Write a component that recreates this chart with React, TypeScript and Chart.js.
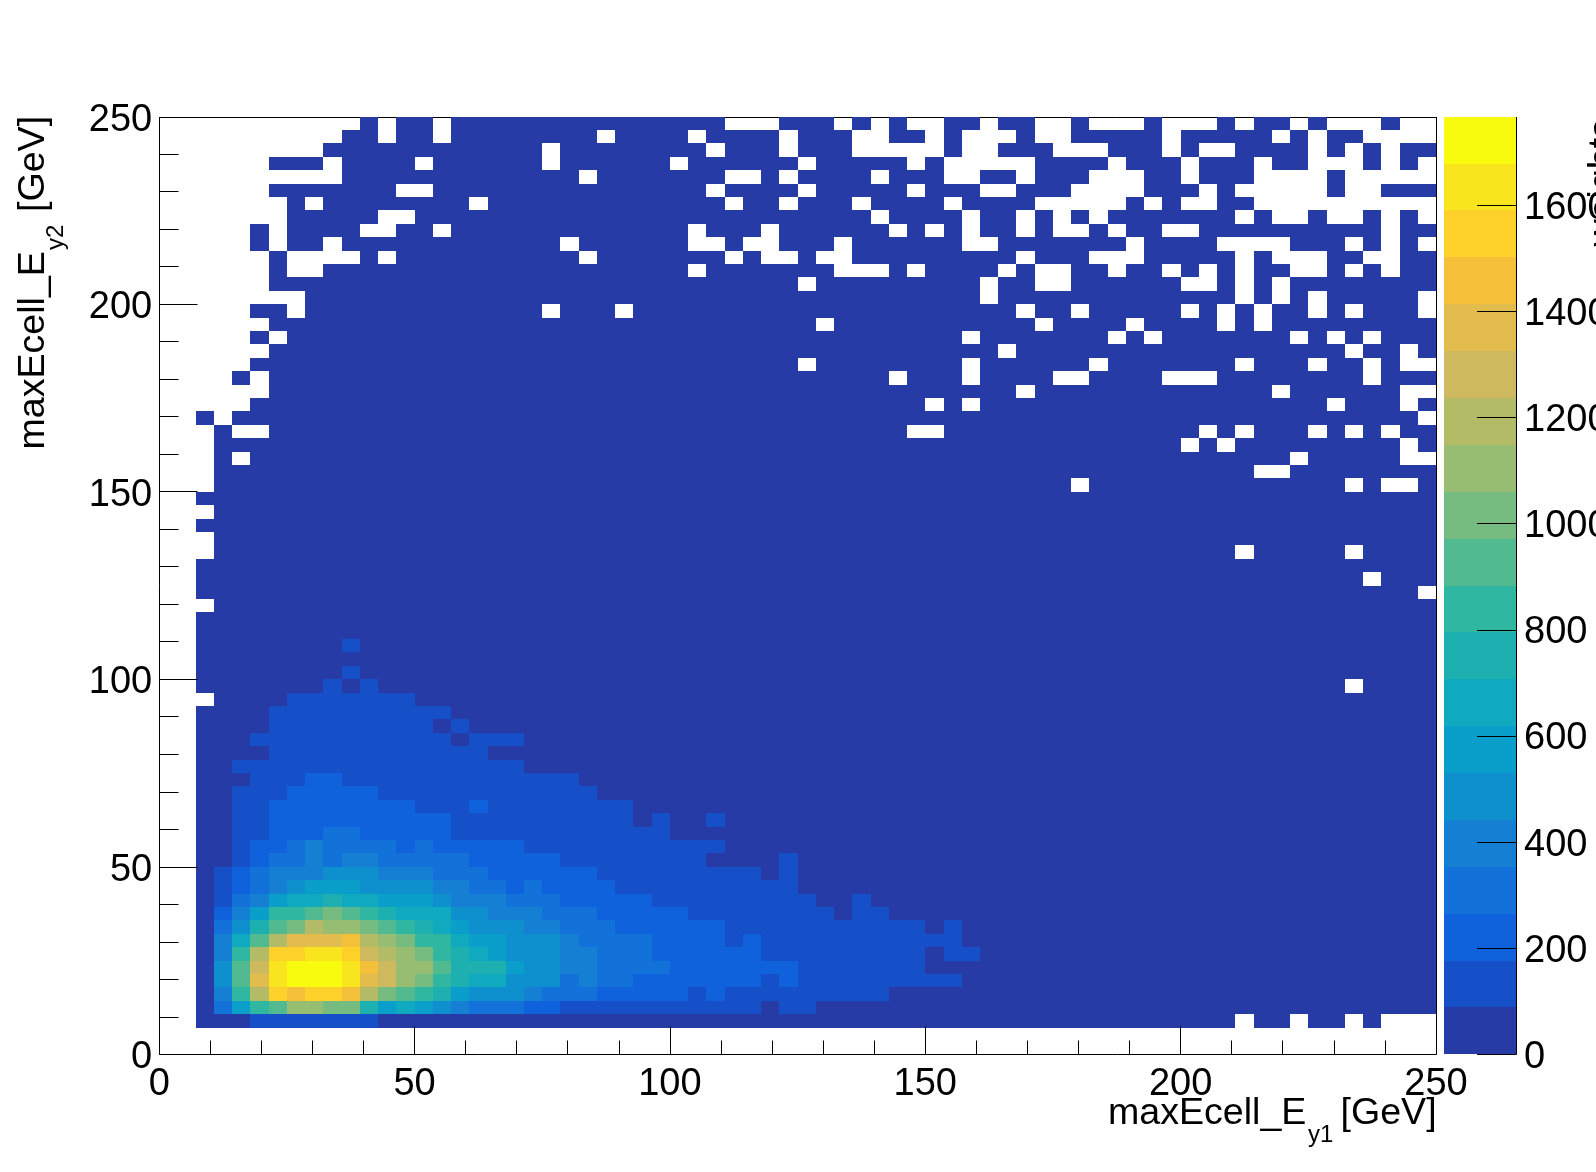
import React, { useEffect, useRef } from "react";
import { Chart, registerables } from "chart.js";

Chart.register(...registerables);

const BIN_COUNT = 70;
const AXIS_MAX = 250;
const Z_MAX = 1767;

const xAxisLabelValues = [0, 50, 100, 150, 200, 250];
const yAxisLabelValues = [0, 50, 100, 150, 200, 250];
const zTickValues = [0, 200, 400, 600, 800, 1000, 1200, 1400, 1600];

// Contour level colours, lowest level first.
const levelColors = [
  "#263ba5", "#1650c9", "#0f62dc", "#1272d9", "#157fd3",
  "#0e8fce", "#0a9fcb", "#0faabf", "#1eb0b0", "#2fb7a1",
  "#52ba91", "#76bc80", "#97bd73", "#b3bb66", "#cfb95f",
  "#e2bd4d", "#f4c03a", "#fdd02a", "#f9e51e", "#f9fb0e",
];

// Row 0 is the top row of the histogram. Bins listed here hold no entries (drawn white).
const emptyBinsByRow = [
  "0-10 12 15 31-33 37 39 41 42 45 48 49 51-53 55-57 59 62 64-66 68 69",
  "0-9 12 15 24 29 34 38 39 42 44-46 48 49 55 61 63 66-69",
  "0-8 21 30 34 38-42 44 45 49-51 55 57 58 63 65 67",
  "0-5 9 14 21 28 35 41 43-47 52 56 60 63-65 67 69",
  "0-9 23 31 32 34 39 43 44 47 51-53 56 60-63 65-69",
  "0-5 13 14 30 35 41 45 46 50-53 57 59-63 65 66",
  "0-6 8 17 31 34 38 43 48-52 54 56 57 60-69",
  "0-6 12 13 39 44 47 49 51 59 61 62 64 65 67 69",
  "0-4 6 11 12 15 29 33 40 42 44 47 49 50 52 55 56 67",
  "0-4 6 9 22 29 30 32 33 37 44 45 53 58-61 65 67 69",
  "0-5 7-10 12 23 31 33 34 36 37 47 51-53 59 61-63 66 67",
  "0-5 7 8 29 37-39 41 46 48 49 52 55 57 59 62 63 65 67",
  "0-5 35 45 48 49 56 57 59 61",
  "0-7 45 59 61 63 69",
  "0-4 7 21 25 47 50 56 58 60 63 65 69",
  "0-5 36 48 53 58 60",
  "0-4 6 44 52 54 62 64 66",
  "0-5 46 65 68",
  "0-4 35 44 51 59 63 66 68 69",
  "0-3 5 40 44 49 50 55-57 66",
  "0-5 47 61 68 69",
  "0-4 42 44 64 68",
  "0 1 3 69",
  "0-2 4 5 41 42 57 59 63 65 67",
  "0-2 56 58 68",
  "0-2 4 62 68 69",
  "0-2 60 61",
  "0-2 50 65 67 68",
  "0 1",
  "0-2",
  "0 1",
  "0-2",
  "0-2 59 65",
  "0 1",
  "0 1 66",
  "0 1 69",
  "0-2",
  "0 1", "0 1", "0 1", "0 1", "0 1",
  "0 1 65",
  "0-2",
  "0 1", "0 1", "0 1", "0 1", "0 1", "0 1", "0 1", "0 1", "0 1", "0 1", "0 1",
  "0 1", "0 1", "0 1", "0 1", "0 1", "0 1", "0 1", "0 1", "0 1", "0 1", "0 1", "0 1",
  "0 1 59 62 65 67-69",
  "0-69",
  "0-69",
];

// Row number -> "bins:level" runs for bins above the lowest contour level.
const raisedRows = [39, 41, 42, 43, 44, 45, 46, 47, 48, 49, 50, 51, 52, 53, 54, 55, 56, 57, 58, 59, 60, 61, 62, 63, 64, 65, 66, 67];
const raisedRuns = [
  "10:1",
  "10:1",
  "9:1 11:1",
  "7-13:1",
  "6-15:1",
  "6-14:1 16:1",
  "5-15:1 17-19:1",
  "6-17:1",
  "4-19:1",
  "5-7:1 8-9:2 10-22:1",
  "4-6:1 7-11:2 12-23:1",
  "4-5:1 6-13:2 14-16:1 17:2 18-25:1",
  "4-5:1 6-15:2 16-25:1 27:1 30:1",
  "4-5:1 6-8:2 9-10:3 11-15:2 16-27:1",
  "4:1 5-6:2 7:3 8:4 9-12:3 13:2 14:3 15-19:2 20-30:1",
  "4:1 5:2 6-7:3 8:4 9:3 10-11:4 12-16:3 17-21:2 22-29:1 34:1",
  "3:1 4:2 5:3 6-8:4 9-11:5 12-14:4 15-17:3 18-23:2 24-32:1 34:1",
  "3:1 4:2 5:3 6:4 7:5 8-10:6 11-14:5 15-16:4 17-18:3 19:2 20:3 21-24:2 25-34:1",
  "3:1 4:3 5:4 6:6 7-8:7 9:8 10-11:7 12-14:6 15:5 16-18:4 19-21:3 22-26:2 27-35:1 38:1",
  "3:2 4:4 5:6 6-7:9 8:10 9:11 10:10 11:9 12:8 13-15:7 16-17:5 18-20:4 21-23:3 24-28:2 29-36:1 38-39:1",
  "3:3 4:5 5:8 6:10 7:11 8:13 9-10:12 11:11 12:10 13:9 14:8 15:7 16:6 17-19:5 20-21:4 22-24:3 25-30:2 31-41:1 43:1",
  "3:4 4:7 5:10 6:13 7-9:15 10:16 11:13 12:12 13:11 14-15:9 16:7 17-18:6 19-21:5 22:4 23-26:3 27-30:2 31:1 32:2 33-43:1",
  "3:4 4:9 5:13 6-7:17 8-9:18 10:17 11:14 12:13 13:12 14:11 15:9 16:8 17:7 18:6 19-21:5 22-23:4 24-26:3 27-32:2 33-41:1 43-44:1",
  "3:5 4:10 5:14 6:18 7-9:19 10:18 11:16 12:14 13-14:12 15:10 16-18:8 19:6 20-21:5 22-23:4 24-27:3 28-34:2 35-41:1",
  "3:5 4:10 5:15 6:18 7-9:19 10:18 11:15 12:14 13:12 14:11 15:9 16:8 17-18:7 19-21:5 22:3 23:4 24-25:3 26-32:2 33:1 34:2 35-43:1",
  "3:4 4:9 5:13 6:17 7:16 8-9:17 10:16 11:13 12:11 13:10 14:9 15:8 16:6 17-19:5 20:4 21-23:3 24-28:2 29:1 30:2 31-39:1",
  "3:3 4:6 5:9 6:10 7-8:12 9-10:11 11:8 12:6 13:7 14:6 15:5 16:4 17-19:3 20-21:2 22-32:1 34-35:1",
  "5-11:1",
];

const FONT = '"Liberation Sans", Arial, sans-serif';
const levelStep = Z_MAX / levelColors.length;
const binWidth = AXIS_MAX / BIN_COUNT;

function expandBins(spec: string): number[] {
  const out: number[] = [];
  for (const part of spec.split(" ")) {
    const [a, b] = part.split("-").map(Number);
    for (let i = a; i <= (b ?? a); i++) out.push(i);
  }
  return out;
}

function buildCells() {
  const cells: { x: number; y: number; v: number }[] = [];
  for (let row = 0; row < BIN_COUNT; row++) {
    const empty = new Set(expandBins(emptyBinsByRow[row]));
    const levels = new Map<number, number>();
    const ri = raisedRows.indexOf(row);
    if (ri >= 0) {
      for (const run of raisedRuns[ri].split(" ")) {
        const [bins, lvl] = run.split(":");
        for (const b of expandBins(bins)) levels.set(b, Number(lvl));
      }
    }
    for (let col = 0; col < BIN_COUNT; col++) {
      if (empty.has(col)) continue;
      const level = levels.get(col) ?? 0;
      cells.push({
        x: (col + 0.5) * binWidth,
        y: (BIN_COUNT - row - 0.5) * binWidth,
        v: (level + 0.5) * levelStep,
      });
    }
  }
  return cells;
}

const histogramPlugin = {
  id: "histogram2d",
  beforeDatasetsDraw(chart: any) {
    const { ctx, chartArea: a, scales } = chart;
    const { x, y, z } = scales;
    ctx.save();
    // frame line that lies under the cells
    ctx.strokeStyle = "#000";
    ctx.lineWidth = 1;
    ctx.beginPath();
    ctx.moveTo(a.left, Math.round(a.top) + 0.5);
    ctx.lineTo(a.right, Math.round(a.top) + 0.5);
    ctx.stroke();
    // cells
    for (const c of chart.data.datasets[0].data) {
      const x0 = Math.round(x.getPixelForValue(c.x - binWidth / 2));
      const x1 = Math.round(x.getPixelForValue(c.x + binWidth / 2));
      const y0 = Math.round(y.getPixelForValue(c.y + binWidth / 2));
      const y1 = Math.round(y.getPixelForValue(c.y - binWidth / 2));
      ctx.fillStyle = levelColors[Math.floor(c.v / levelStep)];
      ctx.fillRect(x0, y0, x1 - x0, y1 - y0);
    }
    // colour bar
    levelColors.forEach((col, i) => {
      const y0 = Math.round(z.getPixelForValue((i + 1) * levelStep));
      const y1 = Math.round(z.getPixelForValue(i * levelStep));
      ctx.fillStyle = col;
      ctx.fillRect(1444, y0, 72, y1 - y0);
    });
    ctx.restore();
  },
  afterDatasetsDraw(chart: any) {
    const { ctx, chartArea: a, scales } = chart;
    const { x, y, z } = scales;
    const snap = (v: number) => Math.floor(v + 0.2) + 0.5;
    const top = Math.round(a.top);
    ctx.save();
    ctx.strokeStyle = "#000";
    ctx.lineWidth = 1;
    ctx.beginPath();
    // axes and right frame
    ctx.moveTo(snap(a.left), top);
    ctx.lineTo(snap(a.left), snap(a.bottom));
    ctx.lineTo(snap(a.right), snap(a.bottom));
    ctx.lineTo(snap(a.right), top);
    // x ticks (inward)
    for (const t of x.ticks) {
      const px = snap(x.getPixelForValue(t.value));
      ctx.moveTo(px, snap(a.bottom));
      ctx.lineTo(px, snap(a.bottom) - (t.value % 50 === 0 ? 28 : 14));
    }
    // y ticks (inward); the one at the very top and bottom sits on the frame
    for (const t of y.ticks) {
      if (t.value === AXIS_MAX) continue;
      const py = snap(y.getPixelForValue(t.value));
      ctx.moveTo(snap(a.left), py);
      ctx.lineTo(snap(a.left) + (t.value % 50 === 0 ? 38 : 19), py);
    }
    // colour bar axis and ticks
    ctx.moveTo(1516.5, top);
    ctx.lineTo(1516.5, snap(a.bottom));
    for (const t of z.ticks) {
      const py = snap(z.getPixelForValue(t.value));
      ctx.moveTo(1516.5, py);
      ctx.lineTo(1477, py);
    }
    ctx.stroke();

    // axis titles
    ctx.fillStyle = "#000";
    ctx.textBaseline = "alphabetic";
    ctx.textAlign = "left";
    const big = `37.6px ${FONT}`;
    const small = `24px ${FONT}`;

    ctx.font = big;
    ctx.fillText("maxEcell_E", 1108, 1124);
    ctx.fillText("[GeV]", 1340.5, 1124);
    ctx.font = small;
    ctx.fillText("y1", 1308, 1142);

    ctx.save();
    ctx.translate(44, 449.5);
    ctx.rotate(-Math.PI / 2);
    ctx.font = big;
    ctx.fillText("maxEcell_E", 0, 0);
    ctx.fillText("[GeV]", 237.5, 0);
    ctx.font = small;
    ctx.fillText("y2", 199.5, 19);
    ctx.restore();

    ctx.save();
    ctx.translate(1614, 119);
    ctx.rotate(-Math.PI / 2);
    ctx.font = big;
    ctx.textAlign = "right";
    ctx.fillText("weights", 0, 0);
    ctx.restore();

    ctx.restore();
  },
};

export default function App() {
  const ref = useRef<HTMLCanvasElement>(null);
  useEffect(() => {
    if (!ref.current) return;
    const tickFont = { family: FONT, size: 38 };
    const chart = new Chart(ref.current, {
      type: "scatter",
      data: {
        datasets: [
          {
            label: "maxEcell_E_y2 vs maxEcell_E_y1",
            data: buildCells(),
            pointRadius: 0,
            pointHoverRadius: 0,
          },
        ],
      },
      options: {
        responsive: false,
        animation: false,
        events: [],
        layout: { padding: { top: 116.7, left: 0, right: 0, bottom: 0 } },
        plugins: { legend: { display: false }, tooltip: { enabled: false } },
        scales: {
          x: {
            type: "linear",
            min: 0,
            max: AXIS_MAX,
            grid: { display: false, drawTicks: false },
            border: { display: false },
            afterFit: (s: any) => { s.height = 117.65; },
            ticks: {
              stepSize: 10,
              autoSkip: false,
              maxRotation: 0,
              minRotation: 0,
              padding: 7,
              color: "#000",
              font: tickFont,
              callback: (v: any) => (xAxisLabelValues.includes(v) ? String(v) : ""),
            },
          },
          y: {
            type: "linear",
            min: 0,
            max: AXIS_MAX,
            position: "left",
            grid: { display: false, drawTicks: false },
            border: { display: false },
            afterFit: (s: any) => { s.width = 159.2; },
            ticks: {
              stepSize: 10,
              autoSkip: false,
              padding: 7,
              labelOffset: 3.5,
              color: "#000",
              font: tickFont,
              callback: (v: any) => (yAxisLabelValues.includes(v) ? String(v) : ""),
            },
          },
          z: {
            type: "linear",
            min: 0,
            max: Z_MAX,
            position: "right",
            grid: { display: false, drawTicks: false },
            border: { display: false },
            afterFit: (s: any) => { s.width = 160; },
            afterBuildTicks: (s: any) => { s.ticks = zTickValues.map((value) => ({ value })); },
            ticks: {
              autoSkip: false,
              padding: 88,
              labelOffset: 3,
              color: "#000",
              font: tickFont,
              callback: (v: any) => String(v),
            },
          },
        },
      } as any,
      plugins: [histogramPlugin],
    });
    return () => chart.destroy();
  }, []);
  return (
    <div style={{ position: "fixed", left: 0, top: 0, width: 1596, height: 1172, background: "#fff" }}>
      <canvas ref={ref} width={1596} height={1172} style={{ display: "block" }} />
    </div>
  );
}
